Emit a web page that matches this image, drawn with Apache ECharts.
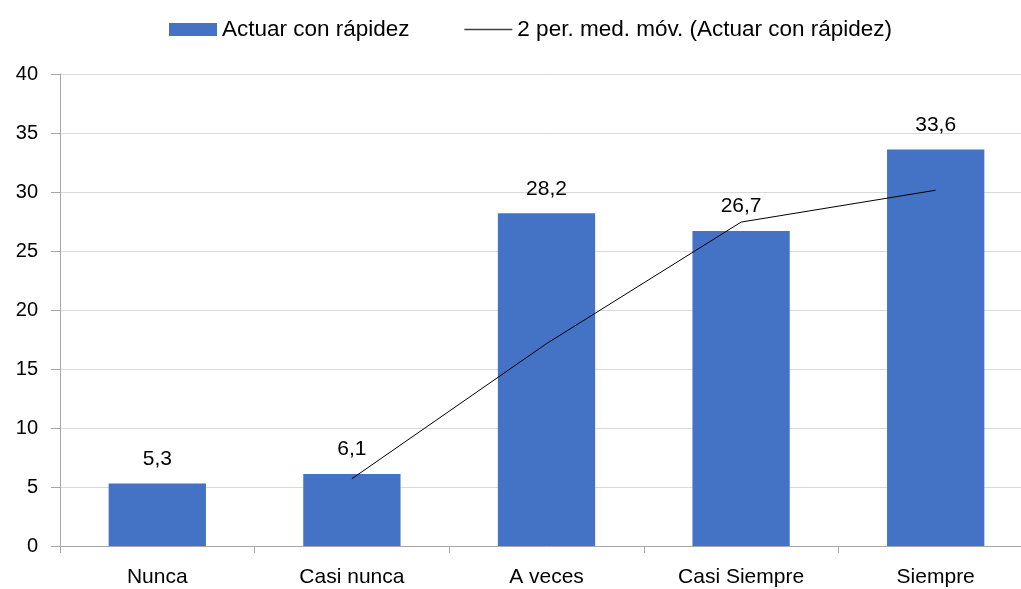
<!DOCTYPE html>
<html>
<head>
<meta charset="utf-8">
<script src="https://cdn.jsdelivr.net/npm/echarts@6/dist/echarts.min.js"></script>
<style>
html,body{margin:0;padding:0;background:#fff;overflow:hidden;width:1021px;height:589px;}
#chart{width:1033px;height:589px;}
</style>
</head>
<body>
<div id="chart"></div>
<script>
const categories = ["Nunca", "Casi nunca", "A veces", "Casi Siempre", "Siempre"];
const barValues = [5.3, 6.1, 28.2, 26.7, 33.6];
const movingAvgValues = [null, 5.7, 17.15, 27.45, 30.15];
const barName = "Actuar con rápidez";
const lineName = "2 per. med. móv. (Actuar con rápidez)";

const FONT = "Liberation Sans";
const chart = echarts.init(document.getElementById('chart'), null, {renderer: 'canvas'});
chart.setOption({
  animation: false,
  backgroundColor: '#fff',
  textStyle: {fontFamily: FONT},
  legend: {
    left: 164,
    top: 13,
    itemWidth: 48,
    itemHeight: 13,
    itemGap: 54,
    textStyle: {fontFamily: FONT, fontSize: 22.5, color: '#000'},
    data: [
      {name: barName, icon: 'rect'},
      {name: lineName, itemStyle: {opacity: 0}, lineStyle: {color: '#404040', width: 1.5}}
    ]
  },
  grid: {left: 60, top: 74, bottom: 43, right: 0, containLabel: false},
  xAxis: {
    type: 'category',
    data: categories,
    axisLine: {lineStyle: {color: '#a6a6a6', width: 1}},
    axisTick: {show: true, length: 7, lineStyle: {color: '#a6a6a6'}},
    axisLabel: {fontFamily: FONT, fontSize: 21, color: '#000', margin: 21}
  },
  yAxis: {
    type: 'value',
    min: 0, max: 40, interval: 5,
    axisLine: {show: true, lineStyle: {color: '#a6a6a6', width: 1}},
    axisTick: {show: true, length: 9, lineStyle: {color: '#a6a6a6'}},
    splitLine: {show: true, lineStyle: {color: '#d9d9d9', width: 1}},
    axisLabel: {fontFamily: FONT, fontSize: 20, color: '#000', margin: 22}
  },
  series: [
    {
      name: barName,
      type: 'bar',
      data: barValues,
      barWidth: '50%',
      itemStyle: {color: '#4472C4'},
      label: {
        show: true, position: 'top', distance: 14,
        fontFamily: FONT, fontSize: 21, color: '#000',
        formatter: p => String(p.value).replace('.', ',')
      }
    },
    {
      name: lineName,
      type: 'line',
      data: movingAvgValues,
      symbol: 'none',
      connectNulls: false,
      lineStyle: {color: '#000', width: 1},
      itemStyle: {color: '#000'},
      z: 5
    }
  ]
});
</script>
</body>
</html>
